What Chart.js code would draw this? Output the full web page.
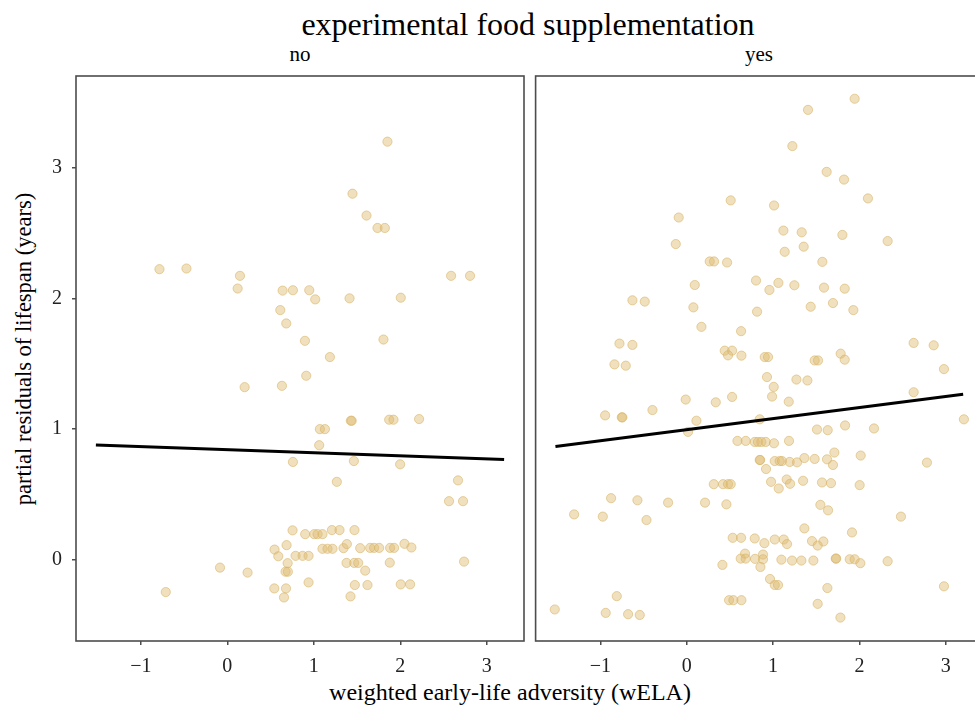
<!DOCTYPE html>
<html>
<head>
<meta charset="utf-8">
<script src="https://cdn.jsdelivr.net/npm/chart.js@4/dist/chart.umd.min.js"></script>
<style>
  html, body { margin:0; padding:0; background:#fff; }
  body { width:975px; height:706px; overflow:hidden; position:relative; font-family:"Liberation Serif","DejaVu Serif",serif; color:#000; }
  .lbl { position:absolute; white-space:nowrap; line-height:1; transform:translateX(-50%); }
  .ylbl { position:absolute; white-space:nowrap; line-height:1; transform:translate(-50%,-50%) rotate(-90deg); }
  canvas { position:absolute; top:0; }
</style>
</head>
<body>
<div class="lbl" id="mainTitle" style="left:528px; top:8px; font-size:32px;">experimental food supplementation</div>
<div class="lbl" style="left:300px; top:44px; font-size:21px;">no</div>
<div class="lbl" style="left:759px; top:44px; font-size:21px;">yes</div>
<div class="lbl" style="left:510px; top:680px; font-size:24px;">weighted early-life adversity (wELA)</div>
<div class="ylbl" style="left:24px; top:349px; font-size:22.5px;">partial residuals of lifespan (years)</div>
<canvas id="cNo" width="530" height="706" style="left:0px;"></canvas>
<canvas id="cYes" width="460" height="706" style="left:530px;"></canvas>
<script>
// ---- data ----
const panels = ["no", "yes"];
const xTicks = [-1, 0, 1, 2, 3];
const yTicks = [0, 1, 2, 3];

const noX = [1.851,1.447,1.609,1.736,1.821,-0.785,-0.473,0.146,0.119,0.639,0.758,0.947,1.016,1.413,2.005,2.587,2.806,0.612,0.681,0.897,1.805,1.186,0.2,0.631,0.912,1.428,1.438,1.871,1.921,2.217,1.07,1.128,1.062,0.758,1.463,1.998,1.266,2.667,2.563,2.725,0.754,0.9,1.005,1.043,1.1,1.209,1.297,1.47,0.685,0.546,0.589,0.789,0.87,0.939,1.1,1.158,1.216,1.343,1.382,1.536,1.651,1.697,1.755,1.882,1.928,2.048,2.128,2.737,0.697,0.673,0.7,1.378,1.467,1.513,1.878,1.594,-0.085,0.234,0.939,0.543,0.678,0.655,1.474,1.62,2.005,2.113,1.424,-0.712];
const noY = [3.198,2.80,2.633,2.538,2.538,2.223,2.228,2.172,2.075,2.059,2.062,2.062,1.992,2.0,2.005,2.172,2.172,1.91,1.808,1.675,1.685,1.551,1.321,1.331,1.408,1.064,1.064,1.072,1.072,1.077,1.0,1.0,0.877,0.749,0.756,0.731,0.597,0.608,0.449,0.449,0.226,0.197,0.197,0.197,0.197,0.228,0.228,0.228,0.113,0.079,0.028,0.031,0.031,0.031,0.085,0.085,0.085,0.09,0.121,0.09,0.092,0.092,0.092,0.092,0.092,0.123,0.095,-0.013,-0.025,-0.09,-0.09,-0.023,-0.023,-0.023,-0.021,-0.082,-0.059,-0.097,-0.172,-0.218,-0.218,-0.287,-0.192,-0.192,-0.187,-0.187,-0.279,-0.246];

const yesX = [1.944,1.404,1.223,1.62,1.821,2.098,0.509,1.011,-0.093,1.119,1.331,1.802,2.326,-0.127,1.134,1.354,0.266,0.316,0.467,1.57,0.802,1.061,0.957,1.246,0.093,1.589,1.829,-0.629,-0.486,0.077,0.814,1.435,1.693,1.929,0.17,0.629,-0.779,-0.629,2.627,2.859,0.44,0.525,0.478,0.633,0.903,0.941,1.481,1.52,1.782,1.829,-0.837,-0.706,2.978,0.929,1.007,0.988,1.27,1.397,-0.012,0.336,0.525,1.181,2.627,-0.945,-0.752,-0.745,-0.397,0.112,0.845,0.015,3.209,1.508,1.632,1.833,2.168,0.587,0.683,0.787,0.825,0.864,0.914,1.01,1.184,1.709,2.014,2.781,0.845,0.85,1.019,1.076,1.103,1.192,1.277,1.362,1.481,1.624,1.693,0.918,0.313,0.42,0.478,0.509,0.976,1.065,1.157,1.196,1.347,1.566,1.67,2.002,-0.876,-0.571,-0.216,0.212,0.459,-1.304,-0.972,-0.466,1.547,1.636,2.48,1.362,1.913,0.532,0.629,0.787,0.899,1.019,1.123,1.161,1.45,1.582,1.516,0.675,0.625,0.683,0.791,0.883,0.883,0.853,1.096,1.219,1.327,1.466,1.725,1.73,1.887,1.944,2.01,2.326,0.413,0.964,1.019,1.057,1.628,2.978,-0.81,0.49,0.54,0.633,1.516,-1.528,-0.938,-0.679,-0.544,1.779];
const yesY = [3.526,3.441,3.164,2.967,2.908,2.764,2.749,2.71,2.618,2.518,2.505,2.485,2.438,2.415,2.356,2.395,2.282,2.282,2.274,2.279,2.136,2.118,2.064,2.1,2.102,2.082,2.074,1.985,1.975,1.931,1.898,1.936,1.964,1.91,1.782,1.749,1.654,1.644,1.659,1.641,1.6,1.6,1.564,1.562,1.551,1.551,1.525,1.525,1.577,1.531,1.495,1.485,1.459,1.398,1.323,1.249,1.379,1.372,1.226,1.205,1.246,1.21,1.282,1.105,1.09,1.09,1.146,1.064,1.075,0.979,1.075,0.997,0.992,1.028,1.005,0.91,0.91,0.902,0.902,0.902,0.902,0.892,0.91,0.821,0.798,0.744,0.764,0.764,0.756,0.756,0.756,0.749,0.746,0.779,0.772,0.769,0.726,0.695,0.579,0.579,0.579,0.579,0.597,0.546,0.615,0.582,0.605,0.592,0.587,0.572,0.472,0.456,0.438,0.438,0.425,0.348,0.331,0.305,0.421,0.379,0.331,0.241,0.21,0.169,0.169,0.164,0.128,0.156,0.156,0.121,0.144,0.141,0.11,0.048,0.01,0.01,0.008,0.041,0.005,-0.054,0.002,-0.005,-0.005,-0.005,0.01,0.01,0.005,0.005,-0.025,-0.01,-0.038,-0.146,-0.192,-0.192,-0.215,-0.202,-0.277,-0.308,-0.308,-0.308,-0.336,-0.379,-0.405,-0.415,-0.421,-0.441];

// fitted lines (endpoints)
const fitX = [-1.52, 3.2];
const fitNoY = [0.879, 0.767];
const fitYesY = [0.867, 1.267];

// ---- styling ----
const FONT = '"Liberation Serif","DejaVu Serif",serif';
const INK = '#4d4d4d';
const X_MIN = -1.75, X_MAX = 3.43, Y_MIN = -0.62, Y_MAX = 3.70;

const toPts = (xs, ys) => xs.map((x, i) => ({x: x, y: ys[i]}));
const fmt = v => (v < 0 ? '\u2212' + Math.abs(v) : String(v));

const framePlugin = {
  id: 'frame',
  afterDraw(chart) {
    const a = chart.chartArea, ctx = chart.ctx;
    ctx.save();
    ctx.strokeStyle = INK;
    ctx.lineWidth = 1.6;
    ctx.strokeRect(a.left, a.top, a.right - a.left, a.bottom - a.top);
    ctx.restore();
  }
};

function makeChart(id, xs, ys, fitY, showY, pad) {
  return new Chart(document.getElementById(id), {
    type: 'scatter',
    data: {
      datasets: [
        {
          data: toPts(xs, ys),
          pointRadius: 4.6,
          pointHoverRadius: 4.6,
          backgroundColor: 'rgba(222,186,110,0.45)',
          borderColor: 'rgba(214,176,96,0.55)',
          borderWidth: 1,
          order: 2
        },
        {
          data: toPts(fitX, fitY),
          showLine: true,
          borderColor: '#000',
          borderWidth: 3,
          pointRadius: 0,
          fill: false,
          order: 1
        }
      ]
    },
    options: {
      responsive: false,
      animation: false,
      events: [],
      layout: { padding: pad },
      plugins: { legend: { display: false }, tooltip: { enabled: false }, title: { display: false } },
      scales: {
        x: {
          type: 'linear',
          min: X_MIN, max: X_MAX,
          afterBuildTicks: s => { s.ticks = xTicks.map(v => ({value: v})); },
          afterFit: s => { s.height = 65; },
          grid: { display: true, drawOnChartArea: false, drawTicks: true, tickLength: 4, color: INK, lineWidth: 1.5 },
          border: { display: false },
          ticks: { color: '#222', font: { family: FONT, size: 20 }, padding: 10, maxRotation: 0, callback: v => fmt(v) }
        },
        y: {
          type: 'linear',
          display: showY,
          min: Y_MIN, max: Y_MAX,
          afterBuildTicks: s => { s.ticks = yTicks.map(v => ({value: v})); },
          afterFit: s => { s.width = showY ? 76 : 0; },
          grid: { display: true, drawOnChartArea: false, drawTicks: true, tickLength: 4, color: INK, lineWidth: 1.5 },
          border: { display: false },
          ticks: { color: '#222', font: { family: FONT, size: 20 }, padding: 10, callback: v => fmt(v) },
          title: { display: false }
        }
      }
    },
    plugins: [framePlugin]
  });
}

makeChart('cNo', noX, noY, fitNoY, true, { top: 76, right: 6, bottom: 0, left: 0 });
makeChart('cYes', yesX, yesY, fitYesY, false, { top: 76, right: 7, bottom: 0, left: 5 });
</script>
</body>
</html>
